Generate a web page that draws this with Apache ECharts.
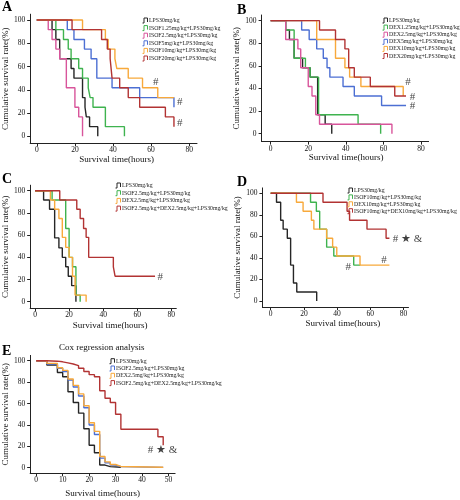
<!DOCTYPE html>
<html><head><meta charset="utf-8">
<script src="https://cdn.jsdelivr.net/npm/echarts@6/dist/echarts.min.js"></script>
<style>html,body{margin:0;padding:0;background:#fff}#c{width:460px;height:500px}</style>
</head><body><div id="c"></div>
<script>
// ---------- tick labels ----------
const ticksX80 = [0, 20, 40, 60, 80];
const ticksX50 = [0, 10, 20, 30, 40, 50];
const ticksY = [0, 20, 40, 60, 80, 100];

// ---------- Panel A ----------
const namesA = ['LPS30mg/kg','ISOF1.25mg/kg+LPS30mg/kg','ISOF2.5mg/kg+LPS30mg/kg','ISOF5mg/kg+LPS30mg/kg','ISOF10mg/kg+LPS30mg/kg','ISOF20mg/kg+LPS30mg/kg'];
const a_lps     = [[0,100],[8,91.7],[10,83.3],[12,66.7],[18,58.3],[19.5,50],[24,33.3],[25.3,25],[26,16.7],[27.7,8.3],[32,0]];
const a_isof125 = [[0,100],[10,91.7],[14,83.3],[16.5,75],[18,66.7],[22,58.3],[24,50],[27,41.7],[28,33.3],[29.5,25],[36,8.3],[46,0]];
const a_isof25  = [[0,100],[6,91.7],[8,83.3],[10,75],[12,66.7],[15.5,41.7],[20,25],[22,16.7],[24,0]];
const a_isof5   = [[0,100],[16,91.7],[19.5,83.3],[25,75],[28.5,66.7],[31.5,50],[39.5,41.7],[54,33.3],[72,25]];
const a_isof10  = [[0,100],[24,91.7],[36,83.3],[37.5,75],[41,66.7],[42,58.3],[48,50],[55.5,41.7],[63.5,33.3],[72,33.3]];
const a_isof20  = [[0,100],[18.5,91.7],[34,83.3],[37,75],[38.5,66.7],[39.5,50],[43.5,41.7],[48,33.3],[54,25],[67.5,16.7],[72,8.3]];
const annA = [[62.5,46.9,'#'],[75,29.8,'#'],[75,11.7,'#']];

// ---------- Panel B ----------
const namesB = ['LPS30mg/kg','DEX1.25mg/kg+LPS30mg/kg','DEX2.5mg/kg+LPS30mg/kg','DEX5mg/kg+LPS30mg/kg','DEX10mg/kg+LPS30mg/kg','DEX20mg/kg+LPS30mg/kg'];
const b_lps    = [[0,100],[8,91.7],[10,83.3],[12.5,66.7],[17,58.3],[21,50],[25,16.7],[29,8.3],[32.5,0]];
const b_dex125 = [[0,100],[8,91.7],[12.5,66.7],[18.5,58.3],[21,50],[25.5,16.7],[46.5,8.3],[58.5,0]];
const b_dex25  = [[0,100],[8,83.3],[14.5,75],[16,58.3],[20,41.7],[22,33.3],[24,16.7],[26,8.3],[64.5,0]];
const b_dex5   = [[0,100],[16.5,91.7],[20.5,83.3],[24.5,75],[28,66.7],[30,58.3],[31.5,50],[38.5,41.7],[44.5,33.3],[59,25],[72,25]];
const b_dex10  = [[0,100],[24.5,83.3],[34.5,66.7],[39.5,58.3],[42,50],[48,41.7],[70.5,33.3]];
const b_dex20  = [[0,100],[26,91.7],[34.5,83.3],[39.5,75],[41.5,58.3],[44.5,50],[53,41.7],[66,33.3],[72,33.3]];
const annB = [[73,46,'#'],[75.5,32.7,'#'],[75.5,24.5,'#']];

// ---------- Panel C ----------
const namesC = ['LPS30mg/kg','ISOF2.5mg/kg+LPS30mg/kg','DEX2.5mg/kg+LPS30mg/kg','ISOF2.5mg/kg+DEX2.5mg/kg+LPS30mg/kg'];
const c_lps   = [[0,100],[5,91.7],[8.5,83.3],[11.5,57.5],[14,48.5],[16,40],[18,31.5],[19.5,23],[21.5,14.5],[24,0]];
const c_isof  = [[0,100],[10,91.7],[18,66],[20,40],[22,31.5],[24,6],[26.5,0]];
const c_dex   = [[0,100],[9,91.7],[11.5,83.3],[14,75],[16,58],[18,49],[20,40],[22,23],[23.5,6],[30,0]];
const c_combo = [[0,100],[14.5,91.7],[24.5,83.3],[26.5,75],[28.5,66],[30,58],[31.5,40],[46,31.5],[47,23],[70.5,23]];
const annC = [[73.5,22.5,'#']];

// ---------- Panel D ----------
const namesD = ['LPS30mg/kg','ISOF10mg/kg+LPS30mg/kg','DEX10mg/kg+LPS30mg/kg','ISOF10mg/kg+DEX10mg/kg+LPS30mg/kg'];
const d_lps   = [[0,100],[3.5,91.7],[6,75],[7.5,66.7],[10,58.3],[12,33.3],[13.7,16.7],[15.7,8.3],[27.7,0]];
const d_isof  = [[0,100],[24,91.7],[27.5,83.3],[29.5,66.7],[33.7,50],[38,41.7],[50,33.3],[54,33.3]];
const d_dex   = [[0,100],[15.5,91.7],[19.5,83.3],[24.5,75],[26,66.7],[33.7,58.3],[37.3,50],[39.8,41.7],[53.8,33.3],[71.5,33.3]];
const d_combo = [[0,100],[31.5,91.7],[46,83.3],[47.5,75],[58,66.7],[69.5,58.3],[71.5,58.3]];
const annD = [[82.4,57.3,'# ★ &'],[68.2,38,'#'],[46.7,31,'#']];

// ---------- Panel E ----------
const namesE = ['LPS30mg/kg','ISOF2.5mg/kg+LPS30mg/kg','DEX2.5mg/kg+LPS30mg/kg','ISOF2.5mg/kg+DEX2.5mg/kg+LPS30mg/kg'];
const e_lps   = [[0,100],[4,96],[8,89],[10,85],[12,71],[14,61],[16,51],[18,36.5],[20,21],[22,14],[24,2.5],[26,1],[28,0.5],[32,0]];
const e_isof  = [[0,100],[4,97],[8,93],[10,90],[12,82],[14,75.5],[16,67],[18,56],[20,40],[22,31],[24,9],[26,4.5],[28,2.5],[30,1],[32,0.3],[48,0.3]];
const e_dex   = [[0,100],[4,97.5],[8,93.5],[10,91],[12,83],[14,77],[16,69],[18,58],[20,42],[22,34],[24,10.5],[26,5.5],[28,3],[30,1.2],[32,0.4],[48,0.4]];
const e_combo = [[0,100],[4,99.6],[8,99],[10,98],[12,97],[14,95.5],[16,93],[18,90],[20,87],[22,85],[24,72],[26,65],[28,61],[30,50],[32,36],[46,29],[48,21]];
const annE = [[47.7,16.5,'# ★ &']];

// ---------- styling ----------
const serif = '"Liberation Serif","Times New Roman",serif';
const K = '#262626', G = '#3fb34f', P = '#d8559b', BL = '#4c6fd3', O = '#f8a93b', R = '#b23333';
const stepIcon = 'path://M0,10 L3,10 L3,0 L10,0 L10,8';

const panels = [
  {names:namesA, data:[a_lps,a_isof125,a_isof25,a_isof5,a_isof10,a_isof20], colors:[K,G,P,BL,O,R], ann:annA,
   grid:{left:27, top:14.2, width:170, height:129.1}, xr:[-3.5,84.1], yr:[-6,105], xt:ticksX80,
   yGap:16.5, xGap:10, xPad:[0,0,0,6], leg:{left:142, top:17.5, gap:1.6}},
  {names:namesB, data:[b_lps,b_dex125,b_dex25,b_dex5,b_dex10,b_dex20], colors:[K,G,P,BL,O,R], ann:annB,
   grid:{left:261.6, top:15, width:167, height:126.6}, xr:[-4.8,84], yr:[-7,105], xt:ticksX80,
   yGap:14, xGap:11, xPad:[0,0,0,2], leg:{left:382, top:17.5, gap:1.1}},
  {names:namesC, data:[c_lps,c_isof,c_dex,c_combo], colors:[K,G,O,R], ann:annC,
   grid:{left:29.3, top:185.2, width:147, height:123.2}, xr:[-2.9,83], yr:[-6,105], xt:ticksX80,
   yGap:17.4, xGap:12.5, xPad:[0,0,0,14], leg:{left:115, top:182.5, gap:1.7}},
  {names:namesD, data:[d_lps,d_isof,d_dex,d_combo], colors:[K,G,O,R], ann:annD,
   grid:{left:262.4, top:187.9, width:146.1, height:119.1}, xr:[-5,83], yr:[-5.6,105], xt:ticksX80,
   yGap:14.5, xGap:12, xPad:[0,0,0,15], leg:{left:347, top:187.5, gap:0.9}},
  {names:namesE, data:[e_lps,e_isof,e_dex,e_combo], colors:[K,BL,O,R], ann:annE,
   grid:{left:29.9, top:355.4, width:145.2, height:117.9}, xr:[-2.3,52.5], yr:[-5.2,105], xt:ticksX50,
   yGap:17.1, xGap:16, xPad:[0,0,0,0], leg:{left:109, top:358.2, gap:1.3}}
];

const grid = [], xAxis = [], yAxis = [], series = [], legend = [];
panels.forEach((p, k) => {
  grid.push(Object.assign({containLabel:false}, p.grid));
  xAxis.push({
    type:'value', gridIndex:k, min:p.xr[0], max:p.xr[1],
    name:'Survival time(hours)', nameLocation:'middle', nameGap:p.xGap,
    nameTextStyle:{fontFamily:serif, fontSize:9, color:'#111', padding:p.xPad},
    axisLine:{show:true, onZero:false, lineStyle:{color:'#222', width:1}},
    axisTick:{show:true, length:3, customValues:p.xt, lineStyle:{color:'#222'}},
    axisLabel:{show:true, customValues:p.xt, margin:3, fontFamily:serif, fontSize:7.5, color:'#111'},
    splitLine:{show:false}
  });
  yAxis.push({
    type:'value', gridIndex:k, min:p.yr[0], max:p.yr[1],
    name:'Cumulative survival rate(%)', nameLocation:'middle', nameGap:p.yGap,
    nameTextStyle:{fontFamily:serif, fontSize:9, color:'#111'},
    axisLine:{show:true, onZero:false, lineStyle:{color:'#222', width:1}},
    axisTick:{show:true, length:3, customValues:ticksY, lineStyle:{color:'#222'}},
    axisLabel:{show:true, customValues:ticksY, margin:5, fontFamily:serif, fontSize:7.5, color:'#111'},
    splitLine:{show:false}
  });
  p.names.forEach((n, i) => {
    series.push({
      type:'line', name:n, xAxisIndex:k, yAxisIndex:k, data:p.data[i], step:'end',
      symbol:'none', silent:true, lineStyle:{color:p.colors[i], width:1.4}, itemStyle:{color:p.colors[i]}
    });
  });
  series.push({
    type:'scatter', name:'ann'+k, xAxisIndex:k, yAxisIndex:k, data:p.ann, symbolSize:1, silent:true,
    itemStyle:{color:'rgba(0,0,0,0)'},
    label:{show:true, position:'inside', formatter:d => d.data[2], fontFamily:serif, fontSize:11, color:'#111'}
  });
  legend.push({
    orient:'vertical', left:p.leg.left, top:p.leg.top, padding:0, itemGap:p.leg.gap,
    itemWidth:6, itemHeight:5, icon:stepIcon, selectedMode:false,
    textStyle:{fontFamily:serif, fontSize:5.8, color:'#222', lineHeight:5, padding:[0,0,0,-4]},
    data:p.names.map((n, i) => ({name:n, itemStyle:{color:'rgba(0,0,0,0)', borderColor:p.colors[i], borderWidth:1}}))
  });
});

const letters = [['A',2,0],['B',237,3],['C',2,172],['D',237,175],['E',2,344]];
const graphic = letters.map(l => ({type:'text', left:l[1], top:l[2], style:{text:l[0], font:'bold 14px '+serif, fill:'#000'}}));
graphic.push({type:'text', x:101.7, y:347.3, style:{text:'Cox regression analysis', font:'9px '+serif, fill:'#111', textAlign:'center', textVerticalAlign:'middle'}});

const chart = echarts.init(document.getElementById('c'), null, {renderer:'canvas'});
chart.setOption({animation:false, backgroundColor:'#fff', grid, xAxis, yAxis, series, legend, graphic});
</script></body></html>
